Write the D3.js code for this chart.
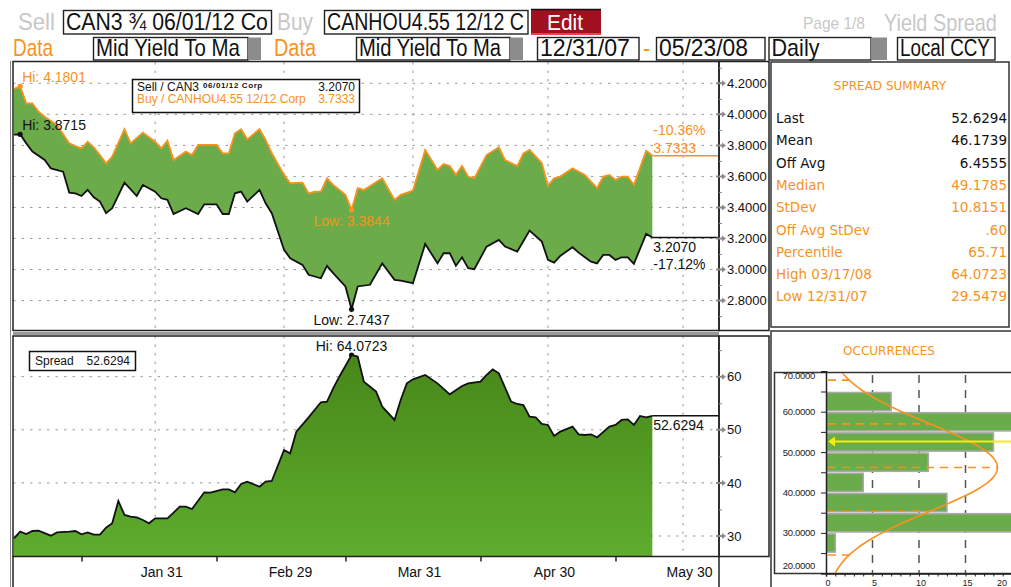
<!DOCTYPE html>
<html><head><meta charset="utf-8">
<script src="https://cdn.jsdelivr.net/npm/d3@7"></script>
<style>
html,body{margin:0;padding:0;background:#fff;}
svg{display:block;}
</style></head><body>
<svg id="c" width="1011" height="587"></svg>
<script>
// ---------------- DATA ----------------
const buyYield = [
["2007-12-31",4.165],["2008-01-01",4.1801],["2008-01-02",4.071],["2008-01-03",4.071],["2008-01-04",4.017],
["2008-01-07",3.985],["2008-01-09",3.931],["2008-01-11",3.813],["2008-01-14",3.796],["2008-01-15",3.781],
["2008-01-16",3.824],["2008-01-17",3.788],["2008-01-18",3.738],["2008-01-21",3.684],["2008-01-22",3.728],
["2008-01-24",3.904],["2008-01-25",3.813],["2008-01-29",3.882],["2008-01-30",3.852],["2008-01-31",3.824],
["2008-02-01",3.781],["2008-02-04",3.831],["2008-02-05",3.706],["2008-02-07",3.760],["2008-02-08",3.738],
["2008-02-11",3.803],["2008-02-14",3.803],["2008-02-15",3.749],["2008-02-18",3.749],["2008-02-19",3.878],
["2008-02-20",3.904],["2008-02-21",3.839],["2008-02-25",3.904],["2008-02-26",3.835],["2008-02-27",3.749],
["2008-02-29",3.610],["2008-03-03",3.556],["2008-03-05",3.560],["2008-03-06",3.491],["2008-03-07",3.502],
["2008-03-10",3.502],["2008-03-11",3.588],["2008-03-12",3.545],["2008-03-14",3.481],["2008-03-17",3.3844],
["2008-03-18",3.524],["2008-03-19",3.513],["2008-03-24",3.588],["2008-03-26",3.449],["2008-03-27",3.481],
["2008-03-31",3.509],["2008-04-02",3.771],["2008-04-04",3.642],["2008-04-07",3.680],["2008-04-08",3.667],
["2008-04-09",3.610],["2008-04-10",3.667],["2008-04-11",3.599],["2008-04-14",3.588],["2008-04-16",3.738],
["2008-04-18",3.788],["2008-04-21",3.706],["2008-04-23",3.667],["2008-04-24",3.749],["2008-04-25",3.771],
["2008-04-29",3.685],["2008-04-30",3.539],["2008-05-01",3.588],["2008-05-02",3.599],["2008-05-06",3.652],
["2008-05-08",3.610],["2008-05-12",3.524],["2008-05-13",3.599],["2008-05-14",3.610],["2008-05-15",3.578],
["2008-05-16",3.599],["2008-05-19",3.599],["2008-05-20",3.545],["2008-05-22",3.766],["2008-05-23",3.7333]
];
const sellYield = [
["2007-12-31",3.8696],["2008-01-01",3.8715],["2008-01-02",3.813],["2008-01-03",3.760],["2008-01-07",3.706],
["2008-01-08",3.652],["2008-01-10",3.631],["2008-01-11",3.496],["2008-01-14",3.491],["2008-01-15",3.474],
["2008-01-16",3.513],["2008-01-17",3.466],["2008-01-18",3.438],["2008-01-21",3.363],["2008-01-22",3.395],
["2008-01-24",3.560],["2008-01-28",3.474],["2008-01-29",3.545],["2008-01-31",3.502],["2008-02-01",3.459],
["2008-02-04",3.449],["2008-02-05",3.358],["2008-02-07",3.395],["2008-02-11",3.358],["2008-02-12",3.420],
["2008-02-14",3.420],["2008-02-15",3.358],["2008-02-18",3.358],["2008-02-19",3.491],["2008-02-20",3.502],
["2008-02-21",3.438],["2008-02-25",3.513],["2008-02-26",3.427],["2008-02-27",3.363],["2008-02-29",3.127],
["2008-03-03",3.073],["2008-03-05",3.030],["2008-03-06",2.966],["2008-03-10",2.944],["2008-03-11",3.024],
["2008-03-12",2.977],["2008-03-14",2.891],["2008-03-17",2.7437],["2008-03-18",2.891],["2008-03-20",2.902],
["2008-03-24",3.040],["2008-03-26",2.934],["2008-03-27",2.929],["2008-03-31",2.912],["2008-04-02",3.165],
["2008-04-04",3.040],["2008-04-07",3.105],["2008-04-08",3.105],["2008-04-09",3.024],["2008-04-10",3.079],
["2008-04-11",3.009],["2008-04-14",3.002],["2008-04-16",3.148],["2008-04-18",3.191],["2008-04-21",3.148],
["2008-04-23",3.116],["2008-04-25",3.251],["2008-04-29",3.180],["2008-04-30",3.062],["2008-05-01",3.045],
["2008-05-02",3.088],["2008-05-06",3.144],["2008-05-07",3.109],["2008-05-09",3.051],["2008-05-12",3.040],
["2008-05-13",3.094],["2008-05-14",3.094],["2008-05-15",3.062],["2008-05-16",3.079],["2008-05-19",3.079],
["2008-05-20",3.037],["2008-05-22",3.230],["2008-05-23",3.2070]
];
const spreadBp = [
["2007-12-31",29.5479],["2008-01-01",30.82],["2008-01-02",30.38],["2008-01-03",30.94],["2008-01-04",31.01],
["2008-01-08",30.06],["2008-01-09",30.69],["2008-01-11",30.82],["2008-01-14",30.94],["2008-01-15",30.31],
["2008-01-16",30.69],["2008-01-17",30.25],["2008-01-18",30.25],["2008-01-21",31.57],["2008-01-22",32.39],
["2008-01-23",36.59],["2008-01-24",33.96],["2008-01-25",33.64],["2008-01-28",33.52],["2008-01-29",33.02],
["2008-01-30",32.39],["2008-01-31",33.33],["2008-02-04",33.33],["2008-02-05",34.40],["2008-02-06",35.53],
["2008-02-07",35.53],["2008-02-08",35.09],["2008-02-12",38.23],["2008-02-13",38.17],["2008-02-15",38.79],
["2008-02-18",38.79],["2008-02-19",38.23],["2008-02-20",39.80],["2008-02-21",40.24],["2008-02-25",39.30],
["2008-02-26",40.24],["2008-02-27",40.36],["2008-02-29",46.20],["2008-03-03",45.57],["2008-03-04",49.65],
["2008-03-06",52.35],["2008-03-10",55.18],["2008-03-11",55.30],["2008-03-12",57.81],["2008-03-13",60.00],
["2008-03-17",64.0723],["2008-03-18",63.80],["2008-03-19",59.06],["2008-03-21",57.18],["2008-03-24",54.36],
["2008-03-26",51.85],["2008-03-27",55.60],["2008-03-28",58.75],["2008-03-31",59.50],["2008-04-02",60.32],
["2008-04-04",58.75],["2008-04-08",56.68],["2008-04-10",58.24],["2008-04-11",58.75],["2008-04-15",59.06],
["2008-04-16",60.32],["2008-04-17",61.38],["2008-04-18",60.63],["2008-04-22",55.30],["2008-04-23",54.86],
["2008-04-24",54.67],["2008-04-25",52.47],["2008-04-28",52.35],["2008-04-29",51.10],["2008-04-30",50.91],
["2008-05-01",48.84],["2008-05-02",49.65],["2008-05-06",50.59],["2008-05-07",49.15],["2008-05-08",49.02],
["2008-05-09",49.15],["2008-05-12",48.58],["2008-05-14",50.59],["2008-05-15",50.91],["2008-05-16",51.85],
["2008-05-19",51.97],["2008-05-20",50.91],["2008-05-21",52.60],["2008-05-22",52.35],["2008-05-23",52.6294]
];
const xTickDates = ["2008-01-31","2008-02-29","2008-03-31","2008-04-30","2008-05-30"];
const xTickLabels = ["Jan 31","Feb 29","Mar 31","Apr 30","May 30"];
const xMinorDates = ["2008-01-15","2008-02-14","2008-03-14","2008-04-15","2008-05-15"];
const topTicks = [2.8,3.0,3.2,3.4,3.6,3.8,4.0,4.2];
const topMinor = [2.7,2.9,3.1,3.3,3.5,3.7,3.9,4.1,4.3];
const botTicks = [30,40,50,60];
const botMinor = [35,45,55,65];
const summaryLabels = ["Last","Mean","Off Avg","Median","StDev","Off Avg StDev","Percentile","High 03/17/08","Low 12/31/07"];
const summaryValues = ["52.6294","46.1739","6.4555","49.1785","10.8151",".60","65.71","64.0723","29.5479"];
const binLow = [25,30,35,40,45,50,55,60];
const binCount = [1,23,13,4,11,18,23,7];
const histYTicks = [20,30,40,50,60,70];
const histXTicks = [0,5,10,15,20];
const spreadMean = 46.1739, spreadStd = 10.8151, spreadLast = 52.6294;
const buyLast = 3.7333, sellLast = 3.2070, buyPct = "-10.36%", sellPct = "-17.12%";

// ---------------- SETUP ----------------
const ORANGE = "#f7921e";
const svg = d3.select("#c");
const fmt = d3.timeFormat("%Y-%m-%d");
const weekdays = d3.timeDay.range(new Date(2007,11,31), new Date(2008,4,31))
  .filter(d => d.getDay() % 6 !== 0).map(fmt);
const x = d3.scalePoint().domain(weekdays).range([14, 683]);
const yTop = d3.scaleLinear().domain([2.8, 4.2]).range([300.6, 83.3]);
const yBot = d3.scaleLinear().domain([30, 60]).range([536, 376.7]);
const SANS = "'Liberation Sans', Arial, sans-serif";
const DJ = "'DejaVu Sans', sans-serif";

const defs = svg.append("defs");
const grad = defs.append("linearGradient").attr("id","gBot").attr("gradientUnits","userSpaceOnUse")
  .attr("x1",0).attr("x2",0).attr("y1",350).attr("y2",556);
grad.append("stop").attr("offset","0%").attr("stop-color","#478619");
grad.append("stop").attr("offset","100%").attr("stop-color","#5ead2d");
defs.append("clipPath").attr("id","clipTop").append("rect").attr("x",13).attr("y",62).attr("width",706).attr("height",268);
defs.append("clipPath").attr("id","clipBot").append("rect").attr("x",13).attr("y",336).attr("width",706).attr("height",220);
defs.append("clipPath").attr("id","clipHist").append("rect").attr("x",826.5).attr("y",373).attr("width",190).attr("height",200);

// ---------------- HEADER ----------------
const hdr = svg.append("g").style("font-family", SANS);
function hText(tx, ty, s, col, size, w){
  const t = hdr.append("text").attr("x",0).attr("y",0).attr("fill",col).attr("font-size",size).text(s);
  const w0 = t.node().getComputedTextLength();
  const sx = w && w0 ? w / w0 : 1;
  t.attr("transform", `translate(${tx},${ty}) scale(${sx},1)`);
  return t;
}
function hBox(x0,y0,x1,y1,label,w){
  hdr.append("rect").attr("x",x0).attr("y",y0).attr("width",x1-x0).attr("height",y1-y0)
    .attr("fill","#fff").attr("stroke","#222").attr("stroke-width",1.4);
  hText(x0+2.5, y1-4, label, "#111", 23, w);
}
function hGray(x0,y0,x1,y1){
  hdr.append("rect").attr("x",x0).attr("y",y0).attr("width",x1-x0).attr("height",y1-y0).attr("fill","#8c8c8c");
}
hText(18, 30, "Sell", "#c8c8c8", 23, 37);
hBox(63.5, 10.5, 271.5, 34, "CAN3 \u00BE 06/01/12 Co", 202);
hText(277, 30, "Buy", "#c8c8c8", 23, 36);
hBox(324.5, 10.5, 528, 34, "CANHOU4.55 12/12 C", 197);
hdr.append("rect").attr("x",531).attr("y",9).attr("width",70).attr("height",26).attr("fill","#a0101f");
hdr.append("line").attr("x1",531).attr("x2",601).attr("y1",9.5).attr("y2",9.5).attr("stroke","#111").attr("stroke-width",1.5);
hdr.append("line").attr("x1",531).attr("x2",601).attr("y1",34).attr("y2",34).attr("stroke","#e8404c").attr("stroke-width",2);
hText(547, 30, "Edit", "#fff", 22, 36);
hText(803, 29, "Page 1/8", "#c8c8c8", 17, 62);
hText(884, 31, "Yield Spread", "#c8c8c8", 23, 113);

hText(13, 56, "Data", ORANGE, 23, 40);
hBox(93.5, 37.5, 248, 60, "Mid Yield To Ma", 144);
hGray(248, 37.5, 261, 60);
hText(274, 56, "Data", ORANGE, 23, 42);
hBox(356.5, 37.5, 510, 60, "Mid Yield To Ma", 142);
hGray(510, 37.5, 523, 60);
hBox(537.5, 37.5, 639, 60, "12/31/07", 90);
hText(643, 56, "-", ORANGE, 23, 7);
hBox(656.5, 37.5, 765, 60, "05/23/08", 89);
hBox(769, 37.5, 871, 60, "Daily", 48);
hGray(871, 37.5, 887, 60);
hBox(897.5, 37.5, 995, 60, "Local CCY", 90);

// ---------------- GRIDS ----------------
const grid = svg.append("g").attr("stroke","#9a9a9a").attr("stroke-width",1).attr("stroke-dasharray","2.5,6");
grid.selectAll(".hgt").data(topTicks).join("line")
  .attr("x1",13).attr("x2",718).attr("y1",d=>yTop(d)).attr("y2",d=>yTop(d));
grid.selectAll(".hgb").data(botTicks).join("line")
  .attr("x1",13).attr("x2",718).attr("y1",d=>yBot(d)).attr("y2",d=>yBot(d));
grid.selectAll(".vgt").data(xTickDates).join("line")
  .attr("x1",d=>x(d)).attr("x2",d=>x(d)).attr("y1",62).attr("y2",330);
grid.selectAll(".vgb").data(xTickDates).join("line")
  .attr("x1",d=>x(d)).attr("x2",d=>x(d)).attr("y1",336).attr("y2",556);

// ---------------- TOP CHART ----------------
const gTop = svg.append("g").attr("clip-path","url(#clipTop)");
const lineT = d3.line().x(d=>x(d[0])).y(d=>yTop(d[1]));
gTop.append("path").attr("d", lineT(buyYield.concat(sellYield.slice().reverse())) + "Z")
  .attr("fill","#6cab49").attr("stroke","none");
gTop.append("path").attr("d", lineT(buyYield)).attr("fill","none").attr("stroke",ORANGE).attr("stroke-width",1.8);
gTop.append("path").attr("d", lineT(sellYield)).attr("fill","none").attr("stroke","#111").attr("stroke-width",1.8);
const bLast = buyYield[buyYield.length-1], sLast = sellYield[sellYield.length-1];
gTop.append("line").attr("x1",x(bLast[0])).attr("x2",719).attr("y1",yTop(buyLast)).attr("y2",yTop(buyLast))
  .attr("stroke",ORANGE).attr("stroke-width",1.5);
gTop.append("line").attr("x1",x(sLast[0])).attr("x2",719).attr("y1",yTop(sellLast)).attr("y2",yTop(sellLast))
  .attr("stroke","#111").attr("stroke-width",1.5);

const ann = svg.append("g").style("font-family", SANS);
function aText(tx, ty, s, col, size, anchor){
  return ann.append("text").attr("x",tx).attr("y",ty).attr("fill",col).attr("font-size",size)
    .attr("text-anchor",anchor||"start").text(s);
}
const bHi = buyYield.reduce((a,b)=>b[1]>a[1]?b:a), bLo = buyYield.reduce((a,b)=>b[1]<a[1]?b:a);
const sHi = sellYield.reduce((a,b)=>b[1]>a[1]?b:a), sLo = sellYield.reduce((a,b)=>b[1]<a[1]?b:a);
[[bHi,ORANGE],[bLo,ORANGE],[sHi,"#111"],[sLo,"#111"]].forEach(([p,c])=>{
  ann.append("circle").attr("cx",x(p[0])).attr("cy",yTop(p[1])).attr("r",2.6).attr("fill",c);
});
aText(x(bHi[0])+2, yTop(bHi[1])-4, "Hi: "+bHi[1].toFixed(4), ORANGE, 14);
aText(x(sHi[0])+2, yTop(sHi[1])-4, "Hi: "+sHi[1].toFixed(4), "#111", 14);
aText(x(bLo[0]), yTop(bLo[1])+16, "Low: "+bLo[1].toFixed(4), ORANGE, 14, "middle");
aText(x(sLo[0]), yTop(sLo[1])+16, "Low: "+sLo[1].toFixed(4), "#111", 14, "middle");
aText(x(bLast[0])+1, yTop(buyLast)-21, buyPct, ORANGE, 14);
aText(x(bLast[0])+1, yTop(buyLast)-3, buyLast.toFixed(4), ORANGE, 14);
aText(x(sLast[0])+1, yTop(sellLast)+15, sellLast.toFixed(4), "#111", 14);
aText(x(sLast[0])+1, yTop(sellLast)+32, sellPct, "#111", 14);

ann.append("rect").attr("x",132.5).attr("y",79.5).attr("width",227).attr("height",33)
  .attr("fill","#fff").attr("stroke","#111").attr("stroke-width",1.5);
aText(137, 90.5, "Sell / CAN3", "#111", 12);
aText(203, 87.5, "06/01/12 Corp", "#111", 8).attr("font-weight","bold").attr("letter-spacing",0.6);
aText(355, 90.5, sellLast.toFixed(4), "#111", 12, "end");
aText(137, 102.5, "Buy / CANHOU4.55 12/12 Corp", ORANGE, 12);
aText(355, 102.5, buyLast.toFixed(4), ORANGE, 12, "end");

// ---------------- BOTTOM CHART ----------------
const gBot = svg.append("g").attr("clip-path","url(#clipBot)");
const areaB = d3.area().x(d=>x(d[0])).y0(556).y1(d=>yBot(d[1]));
gBot.append("path").attr("d", areaB(spreadBp)).attr("fill","url(#gBot)");
gBot.append("path").attr("d", d3.line().x(d=>x(d[0])).y(d=>yBot(d[1]))(spreadBp))
  .attr("fill","none").attr("stroke","#111").attr("stroke-width",1.8);
const spLast = spreadBp[spreadBp.length-1];
gBot.append("line").attr("x1",x(spLast[0])).attr("x2",719).attr("y1",yBot(spreadLast)).attr("y2",yBot(spreadLast))
  .attr("stroke","#111").attr("stroke-width",1.5);
const spHi = spreadBp.reduce((a,b)=>b[1]>a[1]?b:a), spLo = spreadBp.reduce((a,b)=>b[1]<a[1]?b:a);
ann.append("circle").attr("cx",x(spHi[0])).attr("cy",yBot(spHi[1])).attr("r",2.6).attr("fill","#111");
aText(x(spHi[0]), yBot(spHi[1])-4, "Hi: "+spHi[1].toFixed(4), "#111", 14, "middle");
aText(x(spLo[0])+1, yBot(spLo[1])+15, "Low: "+spLo[1].toFixed(4), "#111", 14);
aText(x(spLast[0])+1, yBot(spreadLast)+14, spreadLast.toFixed(4), "#111", 14);
ann.append("rect").attr("x",29.5).attr("y",351.5).attr("width",106).attr("height",19)
  .attr("fill","#fff").attr("stroke","#111").attr("stroke-width",1.5);
aText(35, 365, "Spread", "#111", 12);
aText(130, 365, spreadLast.toFixed(4), "#111", 12, "end");

// ---------------- FRAMES ----------------
const F = svg.append("g").attr("fill","none");
F.append("line").attr("x1",10.5).attr("x2",10.5).attr("y1",61).attr("y2",587).attr("stroke","#888").attr("stroke-width",1);
F.append("rect").attr("x",13).attr("y",61.5).attr("width",706).attr("height",269).attr("stroke","#222").attr("stroke-width",1.5);
F.append("rect").attr("x",719).attr("y",61.5).attr("width",50).attr("height",269).attr("stroke","#222").attr("stroke-width",1.5);
F.append("rect").attr("x",13).attr("y",332).attr("width",706).attr("height",3).attr("fill","#9a9a9a").attr("stroke","none");
F.append("rect").attr("x",13).attr("y",336).attr("width",706).attr("height",220.5).attr("stroke","#222").attr("stroke-width",1.5);
F.append("rect").attr("x",719).attr("y",336).attr("width",50).attr("height",220.5).attr("stroke","#222").attr("stroke-width",1.5);
F.append("line").attr("x1",13).attr("x2",13).attr("y1",556).attr("y2",587).attr("stroke","#222").attr("stroke-width",1.5);
F.append("line").attr("x1",719).attr("x2",719).attr("y1",556).attr("y2",587).attr("stroke","#222").attr("stroke-width",1.5);

// ---------------- AXES ----------------
function styleAxis(g, size){
  g.select(".domain").remove();
  g.selectAll("text").attr("font-family", SANS).attr("font-size", size).attr("fill","#111");
}
function arrowTicks(scale, vals){
  const g = svg.append("g");
  vals.forEach(v=>{
    const yy = scale(v);
    g.append("path").attr("d",`M716,${yy-1}L722,${yy-1}L722,${yy-3}L726,${yy}L722,${yy+3}L722,${yy+1}L716,${yy+1}Z`).attr("fill","#8a8a8a");
  });
}
const axT = svg.append("g").attr("transform","translate(719,0)")
  .call(d3.axisRight(yTop).tickValues(topTicks).tickFormat(d3.format(".4f")).tickSize(0).tickPadding(8));
styleAxis(axT, 13);
arrowTicks(yTop, topTicks);
const axTm = svg.append("g").attr("transform","translate(719,0)")
  .call(d3.axisRight(yTop).tickValues(topMinor.filter(v=>yTop(v)>64 && yTop(v)<329)).tickFormat("").tickSize(3));
axTm.select(".domain").remove(); axTm.selectAll("line").attr("stroke","#888");

const axB = svg.append("g").attr("transform","translate(719,0)")
  .call(d3.axisRight(yBot).tickValues(botTicks).tickFormat(d3.format("d")).tickSize(0).tickPadding(8));
styleAxis(axB, 13);
arrowTicks(yBot, botTicks);
const axBm = svg.append("g").attr("transform","translate(719,0)")
  .call(d3.axisRight(yBot).tickValues(botMinor).tickFormat("").tickSize(3));
axBm.select(".domain").remove(); axBm.selectAll("line").attr("stroke","#888");

const axX = svg.append("g").attr("transform","translate(0,556)")
  .call(d3.axisBottom(x).tickValues(xTickDates).tickFormat((d,i)=>xTickLabels[i]).tickSize(0).tickPadding(11));
styleAxis(axX, 14);
axX.selectAll("text").attr("dx", 6);
const axXm = svg.append("g").attr("transform","translate(0,556.5)")
  .call(d3.axisBottom(x).tickValues(xMinorDates).tickFormat("").tickSize(5));
axXm.select(".domain").remove(); axXm.selectAll("line").attr("stroke","#222").attr("stroke-width",1.5);

// ---------------- SUMMARY PANEL ----------------
const sp = svg.append("g").style("font-family", DJ);
sp.append("rect").attr("x",771).attr("y",62).attr("width",238).attr("height",265)
  .attr("fill","#fff").attr("stroke","#333").attr("stroke-width",1.5);
sp.append("text").attr("x",890).attr("y",90).attr("text-anchor","middle").attr("font-size",12)
  .attr("fill",ORANGE).text("SPREAD SUMMARY");
summaryLabels.forEach((lab,i)=>{
  const col = i < 3 ? "#111" : ORANGE;
  const yy = 123 + i*22.3;
  sp.append("text").attr("x",776).attr("y",yy).attr("font-size",13.5).attr("fill",col).text(lab);
  sp.append("text").attr("x",1007).attr("y",yy).attr("font-size",13.5).attr("fill",col)
    .attr("text-anchor","end").text(summaryValues[i]);
});

// ---------------- OCCURRENCES ----------------
const oc = svg.append("g");
oc.append("rect").attr("x",771).attr("y",331).attr("width",245).attr("height",262)
  .attr("fill","#fff").attr("stroke","#333").attr("stroke-width",1.5);
oc.append("text").attr("x",889).attr("y",355).attr("text-anchor","middle").attr("font-size",12)
  .attr("font-family",DJ).attr("fill",ORANGE).text("OCCURRENCES");
oc.append("rect").attr("x",774.5).attr("y",372.5).attr("width",245).attr("height",201)
  .attr("fill","#fff").attr("stroke","#333").attr("stroke-width",1.5);
const yH = d3.scaleLinear().domain([20,70]).range([573.3, 371.3]);
const xH = d3.scaleLinear().domain([0,20]).range([826, 1012]);
const hp = oc.append("g").attr("clip-path","url(#clipHist)");
hp.selectAll(".hg").data(histXTicks.filter(v=>v>0)).join("line")
  .attr("x1",d=>xH(d)).attr("x2",d=>xH(d)).attr("y1",375).attr("y2",573)
  .attr("stroke","#555").attr("stroke-width",1.5).attr("stroke-dasharray","8,7");
hp.selectAll(".bar").data(binLow).join("rect")
  .attr("x",xH(0)).attr("y",d=>yH(d+5)+1).attr("width",(d,i)=>xH(binCount[i])-xH(0))
  .attr("height",d=>yH(d)-yH(d+5)-2)
  .attr("fill","#6aab4a").attr("stroke","#a9a9a9").attr("stroke-width",1.6);
const total = d3.sum(binCount);
const peak = total*5/(spreadStd*Math.sqrt(2*Math.PI));
const nAt = v => peak*Math.exp(-((v-spreadMean)**2)/(2*spreadStd*spreadStd));
const curveVals = d3.range(18, 72.01, 0.5);
hp.append("path").attr("d", d3.line().x(v=>xH(nAt(v))).y(v=>yH(v)).curve(d3.curveBasis)(curveVals))
  .attr("fill","none").attr("stroke",ORANGE).attr("stroke-width",1.6);
[-2,-1,0,1,2].forEach(k=>{
  const v = spreadMean + k*spreadStd;
  hp.append("line").attr("x1",xH(0)+2).attr("x2",xH(nAt(v))).attr("y1",yH(v)).attr("y2",yH(v))
    .attr("stroke",ORANGE).attr("stroke-width",1.6).attr("stroke-dasharray","8,6");
});
hp.append("line").attr("x1",xH(0)+6).attr("x2",1012).attr("y1",yH(spreadLast)).attr("y2",yH(spreadLast))
  .attr("stroke","#f2ee0a").attr("stroke-width",2);
const yl = yH(spreadLast);
hp.append("path").attr("d",`M828,${yl}L835,${yl-5}L835,${yl+5}Z`).attr("fill","#f2ee0a");
const axHy = oc.append("g").attr("transform","translate(826,0)")
  .call(d3.axisLeft(yH).tickValues(d3.range(20,71,5)).tickSize(5).tickFormat(""));
axHy.select(".domain").attr("stroke","#222").attr("stroke-width",1.5);
axHy.selectAll("line").attr("stroke","#222");
oc.selectAll(".hyl").data(histYTicks).join("text")
  .attr("x",815).attr("y",d=>Math.min(Math.max(yH(d),375),565)+3.5)
  .attr("text-anchor","end").attr("font-size",9.5).attr("font-family",SANS).attr("fill","#222")
  .attr("letter-spacing",-0.3).text(d3.format(".4f"));
const axHx = oc.append("g").attr("transform","translate(0,573.5)")
  .call(d3.axisBottom(xH).tickValues(d3.range(0,21,1)).tickSize(3).tickFormat(""));
axHx.select(".domain").attr("stroke","#222").attr("stroke-width",1.5);
axHx.selectAll("line").attr("stroke","#222");
oc.selectAll(".hxl").data(histXTicks).join("text")
  .attr("x",d=>Math.min(xH(d)+2,1002)).attr("y",585.5).attr("text-anchor","middle")
  .attr("font-size",9).attr("font-family",SANS).attr("fill","#222").text(d=>d);
</script>
</body></html>
